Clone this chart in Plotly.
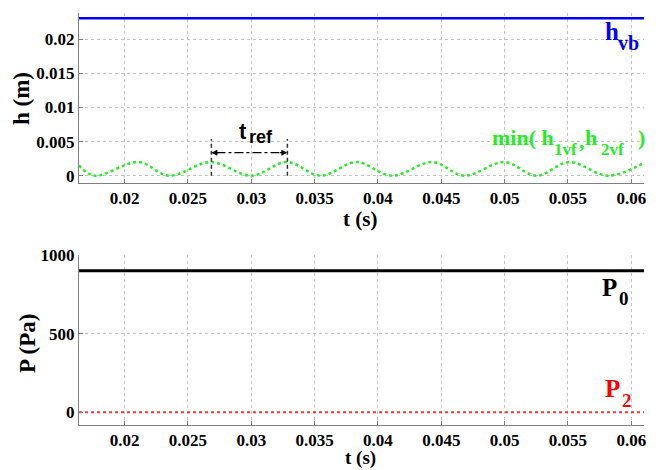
import plotly.graph_objects as go
from plotly.subplots import make_subplots

# ---- data ----
t_range = [0.0164, 0.0610]
t_ends = [0.0164, 0.0610]
h_vb = [0.0231, 0.0231]

# min(h1vf, h2vf): sampled at edges, peaks and troughs
t_min = [0.0164, 0.0176, 0.0211, 0.0235, 0.0268, 0.0300, 0.0328, 0.0355,
         0.0383, 0.0411, 0.0443, 0.0468, 0.0500, 0.0525, 0.0551, 0.0582, 0.0610]
h_min = [0.0015, 0.0000, 0.0020, 0.0000, 0.0020, 0.0000, 0.0020, 0.0000,
         0.0020, 0.0000, 0.0020, 0.0000, 0.0020, 0.0000, 0.0020, 0.0000, 0.0019]

P0 = [900, 900]
P2 = [0, 0]

t_ticks = [0.02, 0.025, 0.03, 0.035, 0.04, 0.045, 0.05, 0.055, 0.06]
t_ticktext = ["0.02", "0.025", "0.03", "0.035", "0.04", "0.045", "0.05", "0.055", "0.06"]
h_ticks = [0, 0.005, 0.01, 0.015, 0.02]
h_ticktext = ["0", "0.005", "0.01", "0.015", "0.02"]
P_ticks = [0, 500, 1000]
P_ticktext = ["0", "500", "1000"]

t_ref = [0.02685, 0.03285]
t_ref_arrow_h = 0.00337
t_ref_top = 0.0054

SERIF = '"Liberation Serif", "Times New Roman", Times, serif'
SANS = '"Liberation Sans", Arial, Helvetica, sans-serif'

W, H = 659, 470
ML, MR, MT, MB = 79, 15, 13, 42
PW, PH = W - ML - MR, H - MT - MB

fig = make_subplots(rows=2, cols=1, vertical_spacing=0.1)

fig.add_trace(go.Scatter(x=t_ends, y=h_vb, mode="lines",
                         line=dict(color="#0000ff", width=2.5)), row=1, col=1)
fig.add_trace(go.Scatter(x=t_min, y=h_min, mode="lines",
                         line=dict(color="#22ee22", width=2.5, dash="dot", shape="spline", smoothing=1.0)),
              row=1, col=1)
fig.add_trace(go.Scatter(x=t_ends, y=P0, mode="lines",
                         line=dict(color="black", width=3)), row=2, col=1)
fig.add_trace(go.Scatter(x=t_ends, y=P2, mode="lines",
                         line=dict(color="#ff3333", width=2, dash="dot")), row=2, col=1)

axis_common = dict(
    showline=True, linecolor="#808080", linewidth=1,
    ticks="inside", ticklen=4, tickcolor="#808080",
    showgrid=True, gridcolor="#c4c4c4", griddash="dot", gridwidth=1,
    zeroline=False, mirror=False, automargin=False,
    tickfont=dict(family=SERIF, size=17, color="black", weight="bold"),
)

fig.update_xaxes(range=t_range, tickvals=t_ticks, ticktext=t_ticktext, **axis_common)
fig.update_yaxes(range=[-0.00107, 0.02386], tickvals=h_ticks, ticktext=h_ticktext,
                 **axis_common, row=1, col=1)
fig.update_yaxes(range=[-81, 1000], tickvals=P_ticks, ticktext=P_ticktext,
                 **axis_common, row=2, col=1)

fig.update_layout(
    width=W, height=H,
    margin=dict(l=ML, r=MR, t=MT, b=MB),
    plot_bgcolor="white", paper_bgcolor="white",
    showlegend=False,
    xaxis=dict(domain=[0, 1]), xaxis2=dict(domain=[0, 1]),
    yaxis=dict(domain=[(428 - 183) / PH, 1.0]),
    yaxis2=dict(domain=[(428 - 425) / PH, (428 - 255) / PH]),
)

# t_ref dimension marks
for tr in t_ref:
    fig.add_shape(type="line", x0=tr, x1=tr, y0=0, y1=t_ref_top, xref="x", yref="y",
                  line=dict(color="#333333", width=1.5, dash="4px,3px"))
fig.add_shape(type="line", x0=t_ref[0] + 0.0004, x1=t_ref[1] - 0.0004,
              y0=t_ref_arrow_h, y1=t_ref_arrow_h, xref="x", yref="y",
              line=dict(color="black", width=1.2, dash="dashdot"))
fig.add_annotation(x=t_ref[0], y=t_ref_arrow_h, ax=t_ref[0] + 0.0007, ay=t_ref_arrow_h,
                   xref="x", yref="y", axref="x", ayref="y", text="", showarrow=True,
                   arrowhead=2, arrowsize=1, arrowwidth=1.2, arrowcolor="black")
fig.add_annotation(x=t_ref[1], y=t_ref_arrow_h, ax=t_ref[1] - 0.0007, ay=t_ref_arrow_h,
                   xref="x", yref="y", axref="x", ayref="y", text="", showarrow=True,
                   arrowhead=2, arrowsize=1, arrowwidth=1.2, arrowcolor="black")


def px(xp):
    return (xp - ML) / PW


def py(yp):
    return (H - MB - yp) / PH


def label(text, x, y, size, color, family=SERIF, xanchor="center", angle=0, pad=1):
    fig.add_annotation(x=px(x), y=py(y), xref="paper", yref="paper", showarrow=False,
                       xanchor=xanchor, yanchor="middle", textangle=angle, borderpad=pad,
                       text="<b>" + text + "</b>", font=dict(family=family, size=size, color=color))


# axis titles
label("h (m)", 22, 99, 23, "black", angle=-90)
label("P (Pa)", 27, 344, 23, "black", angle=-90)
label("t (s)", 360, 219, 21, "black")
label("t (s)", 360, 457.5, 19, "black", pad=0)

# t_ref
label("t", 237, 131, 22, "black", family=SANS, xanchor="left")
label("ref", 247, 137, 18, "black", family=SANS, xanchor="left")

# h_vb
label("h", 603, 31, 25, "#0000ff", xanchor="left")
label("vb", 616, 43, 20, "#0000ff", xanchor="left")

# min(h1vf, h2vf)
GREEN = "#22ee22"
label("min( h", 490, 137, 22, GREEN, xanchor="left")
label("1vf", 552, 149, 17, GREEN, xanchor="left")
label(",", 577, 140, 22, GREEN, xanchor="left")
label("h", 583, 137, 22, GREEN, xanchor="left")
label("2vf", 599, 149, 17, GREEN, xanchor="left")
label(")", 636, 137, 22, GREEN, xanchor="left")

# P0 / P2
label("P", 600, 287, 25, "black", xanchor="left")
label("0", 617, 298, 19, "black", xanchor="left")
label("P", 603, 388, 25, "#ff0000", xanchor="left")
label("2", 620, 400, 19, "#ff0000", xanchor="left")

fig.write_html("out.html")
